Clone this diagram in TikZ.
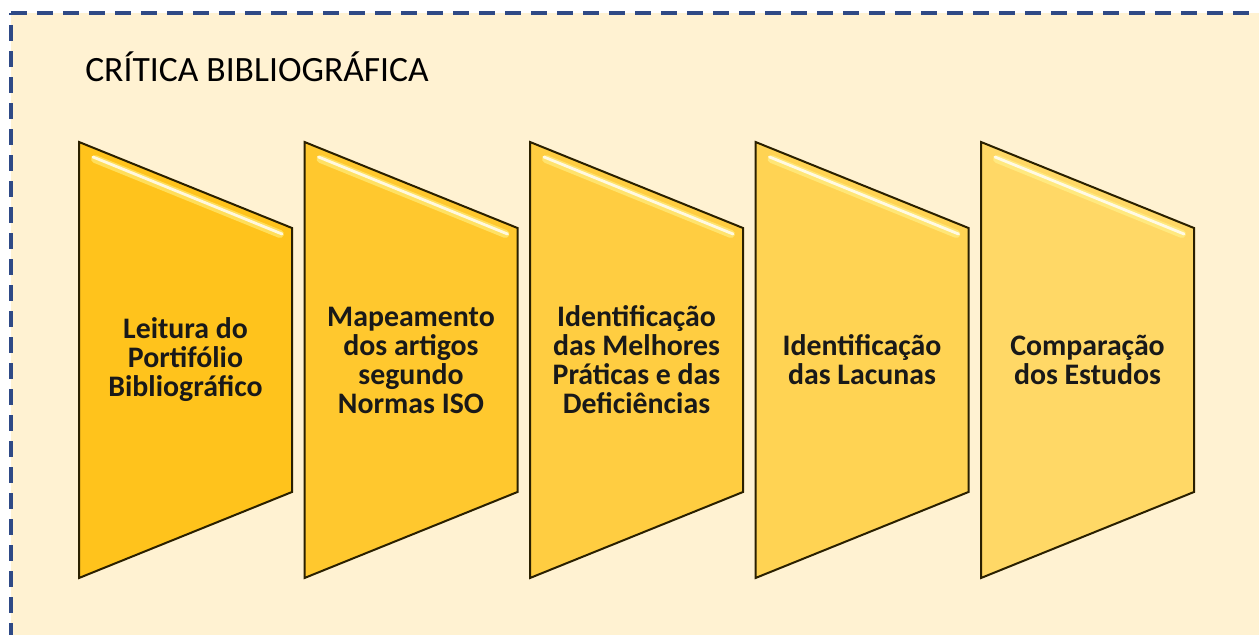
\documentclass[tikz,border=0pt]{standalone}
\usepackage{fontspec}
\setmainfont{Carlito}
\usetikzlibrary{calc}
\definecolor{paper}{HTML}{FFF2D2}
\definecolor{frameblue}{HTML}{2F4A86}
\definecolor{goldA}{HTML}{FFC31C}
\definecolor{goldB}{HTML}{FFD866}
\definecolor{bladeedge}{HTML}{2A2000}
\tikzset{
frameline/.style={draw=frameblue,line width=0.09cm,dash pattern=on 0.4cm off 0.25cm},
titletext/.style={font=\fontsize{25.3}{29}\selectfont,anchor=base west,inner sep=0pt},
blade/.style={draw=bladeedge,line width=0.05cm,line join=miter},
shine/.style={white,opacity=0.8,line width=0.07cm,line cap=round},
glow/.style={yellow!40,opacity=0.5,line width=0.2cm,line cap=round},
bladetext/.style={font=\fontsize{21.2}{20.6}\selectfont\bfseries,align=center,text=black!90,inner sep=0pt}
}
\begin{document}
\begin{tikzpicture}[x=0.025cm,y=-0.025cm]
\useasboundingbox (0,0) rectangle (1259,635);
\fill[white] (0,0) rectangle (1259,635);
\begin{scope}
\clip (0,0) rectangle (1259,635);
\fill[paper] (11,13) rectangle (1290,660);
\draw[frameline] (11,13) -- (1290,13);
\draw[frameline,dash phase=0.35cm] (11,13) -- (11,660);
\end{scope}
\node[titletext] (titulo) at (85,82) {CRÍTICA BIBLIOGRÁFICA};
% etapas
\foreach \i/\lab in {0/{Leitura do\\Portifólio\\Bibliográfico},
1/{Mapeamento\\dos artigos\\segundo\\Normas ISO},
2/{Identificação\\das Melhores\\Práticas e das\\Deficiências},
3/{Identificação\\das Lacunas},
4/{Comparação\\dos Estudos}} {
\pgfmathsetmacro{\xa}{79+225.5*\i}
\pgfmathtruncatemacro{\tone}{25*\i}
\draw[blade,fill=goldB!\tone!goldA] (\xa,142) -- (\xa+213,228) -- (\xa+213,492) -- (\xa,578) -- cycle;
\draw[glow] (\xa+16,159) -- (\xa+201,234);
\draw[shine] (\xa+14,157) -- (\xa+203,234);
\node[bladetext] (etapa\i) at (\xa+106.5,360) {\lab};
}
\end{tikzpicture}
\end{document}
